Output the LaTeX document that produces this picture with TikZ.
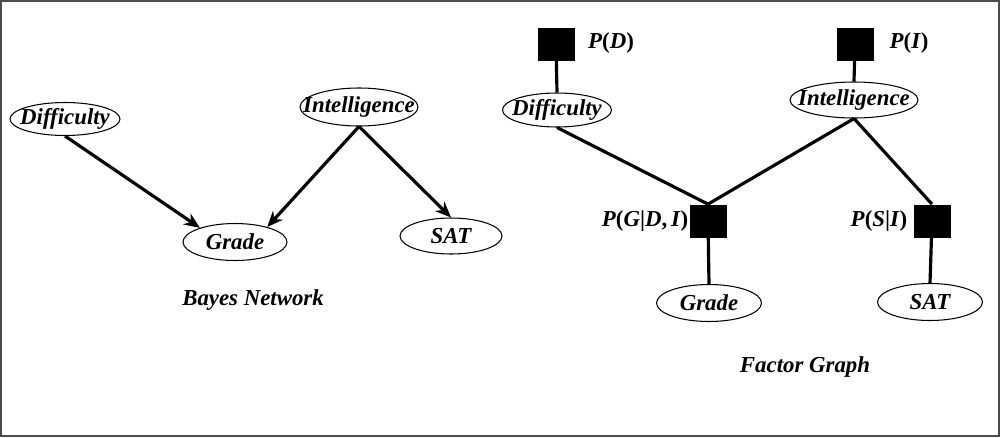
\documentclass[tikz,border=0pt]{standalone}
\usepackage{fontspec}
\setmainfont{Liberation Serif}
\usepackage{tikz}
\usetikzlibrary{shapes.geometric,arrows.meta}
\tikzstyle{var}=[shape=ellipse,draw,semithick,inner sep=0pt,font=\fontsize{13}{15}\selectfont\bfseries\itshape]
\tikzstyle{fac}=[shape=rectangle,fill=black,inner sep=0pt,minimum width=0.74cm,minimum height=0.66cm]
\tikzstyle{lab}=[font=\fontsize{13}{15}\selectfont\bfseries]
\tikzstyle{to}=[-{Stealth[length=9pt,width=7.5pt]},line width=1.8pt]
\tikzstyle{common}=[line width=1.8pt]
\newcommand{\nm}[1]{\makebox[0pt]{#1}}
\newcommand{\mv}[1]{\textit{#1}}

\begin{document}
\begin{tikzpicture}[x=0.02cm,y=-0.02cm]
            \useasboundingbox (0,0) rectangle (1000,437);
            \draw[gray!60!black, line width=1.2pt] (0.8,0.8) rectangle (999.2,436.2);
            % Bayes network
            \node[var, minimum width=2.2cm, minimum height=0.66cm] (difB) at (65,119) {\nm{Difficulty}};
            \node[var, minimum width=2.36cm, minimum height=0.76cm] (intB) at (359,107) {\nm{Intelligence}};
            \node[var, minimum width=2.08cm, minimum height=0.74cm] (gradeB) at (235,242) {\nm{Grade}};
            \node[var, minimum width=2.04cm, minimum height=0.72cm] (satB) at (451,236) {\nm{SAT}};
            \node[lab] (bnet) at (253,300) {\itshape Bayes Network};
            \draw[to] (difB.south) -- (gradeB.158);
            \draw[to] (intB.south) -- (gradeB.25);
            \draw[to] (intB.south) -- (satB.north);
            % Factor graph
            \node[var, minimum width=2.18cm, minimum height=0.68cm] (difF) at (557,110) {\nm{Difficulty}};
            \node[var, minimum width=2.56cm, minimum height=0.72cm] (intF) at (854,100) {\nm{Intelligence}};
            \node[var, minimum width=2.1cm, minimum height=0.74cm] (gradeF) at (709,303) {\nm{Grade}};
            \node[var, minimum width=2.1cm, minimum height=0.74cm] (satF) at (930,302) {\nm{SAT}};
            \node[fac] (pd) at (556,44) {}
                edge[common] (difF.north)
            ;
            \node[fac] (pi) at (855,44) {}
                edge[common] (intF.north)
            ;
            \node[fac] (pg) at (708,221) {}
                edge[common] (gradeF.north)
            ;
            \node[fac] (ps) at (932,221) {}
                edge[common] (satF.north)
            ;
            \draw[common] (difF.south) -- (pg.north);
            \draw[common] (intF.south) -- (pg.north);
            \draw[common] (intF.south) -- (ps.north);
            \node[lab] (pdl) at (611,43) {\mv{P}(\mv{D})};
            \node[lab] (pil) at (909,43) {\mv{P}(\mv{I})};
            \node[lab] (pgl) at (645,221) {\mv{P}(\mv{G}|\mv{D},\,\mv{I})};
            \node[lab] (psl) at (879,221) {\mv{P}(\mv{S}|\mv{I})};
            \node[lab] (fgraph) at (805,367) {\itshape Factor Graph};
        \end{tikzpicture}
\end{document}
